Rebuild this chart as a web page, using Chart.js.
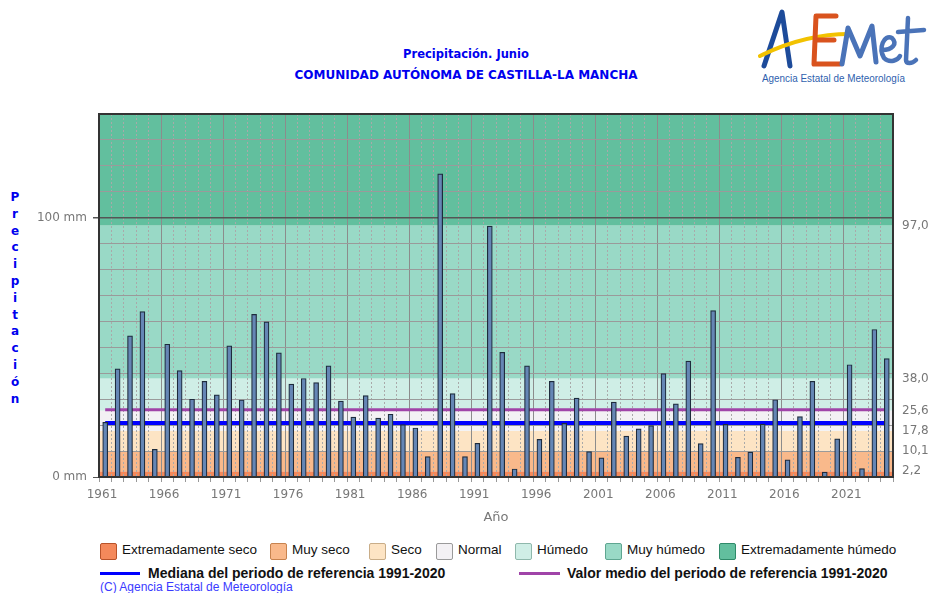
<!DOCTYPE html>
<html>
<head>
<meta charset="utf-8">
<script src="https://cdn.jsdelivr.net/npm/chart.js@4.4.1/dist/chart.umd.min.js"></script>
<style>
  body { margin: 0; width: 932px; height: 593px; background: #fff; position: relative; overflow: hidden; font-family: "DejaVu Sans", sans-serif; }
  #wrap { position: absolute; left: 0; top: 0; width: 932px; height: 530px; }
  .title { position: absolute; left: 0; width: 932px; text-align: center; color: #0000ee; font-weight: bold; font-family: "DejaVu Sans", sans-serif; }
  #ylab { position: absolute; left: 6px; top: 189px; width: 18px; text-align: center; color: #0000ee; font-weight: bold; font-size: 12px; line-height: 16.8px; }
  .leg { position: absolute; font-family: "Liberation Sans Narrow", "Liberation Sans", sans-serif; font-size: 13.5px; color: #111; white-space: nowrap; }
  .box { position: absolute; width: 15px; height: 15px; border-radius: 2px; }
  .ln { position: absolute; height: 3px; }
  #logo { position: absolute; left: 758px; top: 4px; width: 170px; height: 90px; }
  #logo .sub { position: absolute; left: 4px; top: 68px; font-family: "Liberation Sans", sans-serif; font-size: 11.5px; color: #2f5fae; white-space: nowrap; transform: scaleX(0.86); transform-origin: left center; }
</style>
</head>
<body>
<div class="title" style="top:47px;font-size:11.5px">Precipitación. Junio</div>
<div class="title" style="top:68px;font-size:12px">COMUNIDAD AUTÓNOMA DE CASTILLA-LA MANCHA</div>

<div id="logo">
  <svg width="170" height="70" viewBox="0 0 170 70">
    <path d="M6 62 L24 8 L32 62" fill="none" stroke="#1d4b9a" stroke-width="5" stroke-linecap="round" stroke-linejoin="round"/>
    <path d="M2 52 C30 38, 60 30, 92 30" fill="none" stroke="#f2c200" stroke-width="4" stroke-linecap="round"/>
    <path d="M78 12 L58 12 L56 60 L82 60 M57 36 L76 36" fill="none" stroke="#d9531e" stroke-width="5" stroke-linecap="round" stroke-linejoin="round"/>
    <path d="M84 60 L90 24 L102 52 L114 22 L118 58" fill="none" stroke="#4a73b8" stroke-width="5" stroke-linecap="round" stroke-linejoin="round"/>
    <path d="M124 46 C134 46, 140 40, 134 34 C126 30, 120 44, 126 54 C132 60, 140 56, 142 52" fill="none" stroke="#4a73b8" stroke-width="4.5" stroke-linecap="round"/>
    <path d="M150 14 L148 56 C148 60, 154 60, 158 56 M140 28 L166 26" fill="none" stroke="#4a73b8" stroke-width="4.5" stroke-linecap="round"/>
  </svg>
  <div class="sub">Agencia Estatal de Meteorología</div>
</div>

<div id="ylab">P<br>r<br>e<br>c<br>i<br>p<br>i<br>t<br>a<br>c<br>i<br>ó<br>n</div>

<div id="wrap"><canvas id="chart" width="932" height="530"></canvas></div>

<div id="legend"></div>

<script>
// Datos: precipitación de junio (mm), Castilla-La Mancha
const years = [];
for (let y = 1961; y <= 2024; y++) years.push(y);

const precip = [
  21.1, 41.7, 54.4, 63.8, 10.7, 51.2, 41.0, 30.0, 36.9, 31.7,
  50.6, 29.7, 62.7, 59.8, 47.9, 35.8, 38.0, 36.4, 42.9, 29.3,
  23.1, 31.4, 22.7, 24.2, 20.2, 18.9, 7.9, 116.9, 32.2, 7.9,
  13.0, 96.8, 48.1, 3.1, 42.9, 14.5, 36.9, 20.7, 30.4, 9.8,
  7.4, 28.9, 15.8, 18.6, 19.8, 39.9, 28.2, 44.7, 12.9, 64.2,
  20.3, 7.6, 9.6, 20.4, 29.8, 6.6, 23.3, 36.9, 1.9, 14.7,
  43.3, 3.2, 56.9, 45.7
];

const median = 20.8;   // mediana 1991-2020
const mean = 25.9;     // valor medio 1991-2020

// limites de las clases (mm) y etiquetas del eje derecho
const bandLimits = [0, 2.2, 10.1, 17.8, 25.6, 38.0, 97.0, 140];
const rightTicks = [2.2, 10.1, 17.8, 25.6, 38.0, 97.0];
const bandNames = ['Extremadamente seco', 'Muy seco', 'Seco', 'Normal', 'Húmedo', 'Muy húmedo', 'Extremadamente húmedo'];
const bandColors = ['#F4895B', '#F9B98B', '#FDE4C4', '#F3F1F4', '#CFEEE6', '#99D9C6', '#62BF9E'];
const bandBorders = ['#b8532a', '#c7834f', '#c9ad88', '#9a9a9a', '#8fb8ac', '#5fa691', '#2f8a69'];

// Leyenda HTML
const legendX = [100, 270, 369, 436, 515, 605, 719];
let html = '';
bandNames.forEach(function(name, i) {
    html += '<div class="box" style="left:' + legendX[i] + 'px;top:543px;background:' + bandColors[i] + ';border:1px solid ' + bandBorders[i] + '"></div>';
    html += '<div class="leg" style="left:' + (legendX[i] + 22) + 'px;top:542px">' + name + '</div>';
});
html += '<div class="ln" style="left:100px;top:572px;width:40px;background:#0000ff"></div>';
html += '<div class="leg" style="left:148px;top:565px;font-weight:bold;font-size:14px">Mediana del periodo de referencia 1991-2020</div>';
html += '<div class="ln" style="left:519px;top:572px;width:41px;background:#a044a8"></div>';
html += '<div class="leg" style="left:567px;top:565px;font-weight:bold;font-size:14px">Valor medio del periodo de referencia 1991-2020</div>';
html += '<div class="leg" style="left:100px;top:580px;font-size:12px;color:#3a3aff">(C) Agencia Estatal de Meteorología</div>';
document.getElementById('legend').innerHTML = html;

// Fondo por clases + marco
const bandsPlugin = {
    id: 'bands',
    beforeDraw: function(chart) {
        const ctx = chart.ctx, a = chart.chartArea, y = chart.scales.y;
        for (let i = 0; i < bandColors.length; i++) {
            const top = y.getPixelForValue(bandLimits[i + 1]);
            const bot = y.getPixelForValue(bandLimits[i]);
            ctx.fillStyle = bandColors[i];
            ctx.fillRect(a.left, top, a.right - a.left, bot - top);
        }
    },
    afterDraw: function(chart) {
        const ctx = chart.ctx, a = chart.chartArea;
        ctx.save();
        ctx.strokeStyle = '#333';
        ctx.lineWidth = 2;
        ctx.strokeRect(a.left, a.top, a.right - a.left, a.bottom - a.top);
        ctx.restore();
    }
};

const isMajor = function(v) { return (v - 1961) % 5 === 0; };

const ctx = document.getElementById('chart').getContext('2d');
const chart = new Chart(ctx, {
    type: 'bar',
    data: {
        datasets: [
            {
                type: 'bar',
                data: years.map(function(yr, i) { return { x: yr + 0.5, y: precip[i] }; }),
                backgroundColor: '#6586b5',
                borderColor: '#1e2b3c',
                borderWidth: 1.2,
                barThickness: 5,
                order: 1
            },
            {
                type: 'line',
                data: [{ x: 1961.5, y: median }, { x: 2024.5, y: median }],
                borderColor: '#0000ff',
                borderWidth: 4,
                pointRadius: 0,
                order: 2
            },
            {
                type: 'line',
                data: [{ x: 1961.5, y: mean }, { x: 2024.5, y: mean }],
                borderColor: '#a044a8',
                borderWidth: 3,
                pointRadius: 0,
                order: 3
            }
        ]
    },
    options: {
        responsive: false,
        animation: false,
        layout: { padding: { top: 114, left: 0, right: 0, bottom: 0 } },
        plugins: { legend: { display: false }, tooltip: { enabled: false } },
        scales: {
            x: {
                type: 'linear',
                min: 1961,
                max: 2025,
                offset: false,
                afterFit: function(s) { s.height = 53; },
                ticks: {
                    stepSize: 1,
                    autoSkip: false,
                    maxRotation: 0,
                    labelOffset: 3,
                    padding: 6,
                    color: '#777',
                    font: { family: 'DejaVu Sans', size: 12 },
                    callback: function(v) { return isMajor(v) ? String(v) : ''; }
                },
                grid: {
                    offset: false,
                    color: function(c) { return c.tick && isMajor(c.tick.value) ? '#8c8c8c' : '#a9a9a9'; },
                    tickColor: '#999',
                    tickLength: 5
                },
                border: {
                    display: false,
                    dash: function(c) { return c.tick && !isMajor(c.tick.value) ? [2, 2] : []; }
                },
                title: {
                    display: true,
                    text: 'Año',
                    color: '#777',
                    font: { family: 'DejaVu Sans', size: 13 },
                    padding: { top: 0, bottom: 5 }
                }
            },
            y: {
                min: 0,
                max: 140,
                afterFit: function(s) { s.width = 99; },
                ticks: {
                    stepSize: 10,
                    autoSkip: false,
                    padding: 6,
                    color: '#777',
                    font: { family: 'DejaVu Sans', size: 12 },
                    callback: function(v) { return (v === 0 || v === 100) ? v + ' mm' : ''; }
                },
                grid: {
                    color: function(c) { return c.tick && c.tick.value === 100 ? '#555' : '#9a9a9a'; },
                    lineWidth: function(c) { return c.tick && c.tick.value === 100 ? 1.5 : 1; },
                    tickColor: function(c) { return c.tick && (c.tick.value === 0 || c.tick.value === 100) ? '#555' : 'rgba(0,0,0,0)'; },
                    tickLength: 6
                },
                border: { display: false }
            },
            y2: {
                position: 'right',
                min: 0,
                max: 140,
                afterFit: function(s) { s.width = 39; },
                afterBuildTicks: function(s) { s.ticks = rightTicks.map(function(v) { return { value: v }; }); },
                ticks: {
                    autoSkip: false,
                    padding: 9,
                    color: '#777',
                    font: { family: 'DejaVu Sans', size: 12 },
                    callback: function(v) { return v.toFixed(1).replace('.', ','); }
                },
                grid: { drawOnChartArea: false, drawTicks: false },
                border: { display: false }
            }
        }
    },
    plugins: [bandsPlugin]
});
</script>
</body>
</html>
